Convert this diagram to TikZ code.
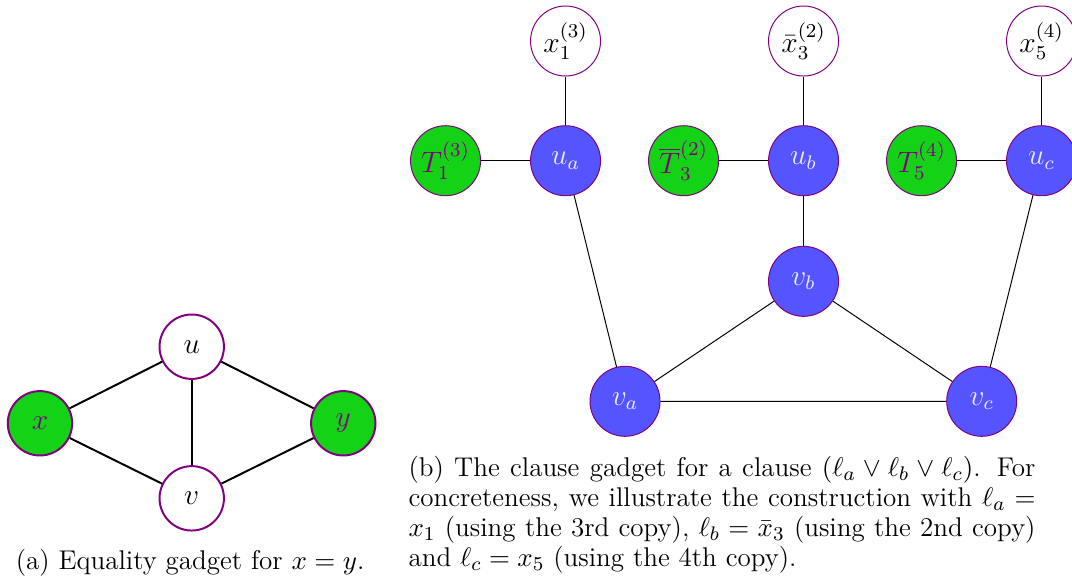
\documentclass[tikz,border=0pt]{standalone}
\usepackage{amsmath,amssymb}
\usetikzlibrary{positioning}
\definecolor{litcol}{RGB}{20,210,22}
\definecolor{gadcol}{RGB}{85,85,255}
\definecolor{rimcol}{RGB}{128,0,128}

\begin{document}
\begin{tikzpicture}[
  vertex/.style={circle, draw=rimcol, fill=white, minimum size=1cm,
                 inner sep=0pt, font=\large},
  lit/.style={vertex, fill=litcol, text=rimcol},
  gad/.style={vertex, fill=gadcol, text=white!88!gadcol},
  eq vertex/.style={vertex, thick, minimum size=0.92cm},
  subcap/.style={font=\fontsize{11}{12.2}\selectfont, inner sep=0pt}
]
  \useasboundingbox (0,0) rectangle (15.314,-8.271);

  % (a) Equality gadget
  \node[eq vertex] (u) at (2.739,-4.953) {$u$};
  \node[eq vertex] (v) at (2.739,-7.119) {$v$};
  \node[eq vertex, fill=litcol, text=rimcol] (x) at (0.571,-6.047) {$x$};
  \node[eq vertex, fill=litcol, text=rimcol] (y) at (4.904,-6.047) {$y$};
  \foreach \a/\b in {x/u, x/v, u/v, u/y, v/y}
    \draw[thick] (\a) -- (\b);
  \node[subcap, anchor=base west] (capA) at (0.22,-8.14)
    {(a) Equality gadget for $x = y$.};

  % (b) Clause gadget, one column per literal
  \foreach \s/\cx/\xlab/\tlab in {a/8.079/{x_1^{(3)}}/{T_1^{(3)}},
                                  b/11.479/{\bar{x}_3^{(2)}}/{\overline{T}_3^{(2)}},
                                  c/14.879/{x_5^{(4)}}/{T_5^{(4)}}} {
    \node[gad] (u\s) at (\cx,-2.296) {$u_\s$};
    \node[vertex] (x\s) at (\cx,-0.586) {$\xlab$};
    \node[lit, left=0.7cm of u\s] (T\s) {$\tlab$};
    \draw (x\s) -- (u\s);
    \draw (T\s) -- (u\s);
  }

  % clause triangle
  \node[gad] (va) at (8.929,-5.733) {$v_a$};
  \node[gad] (vb) at (11.479,-4.019) {$v_b$};
  \node[gad] (vc) at (14.024,-5.733) {$v_c$};
  \foreach \s in {a,b,c}
    \draw (u\s) -- (v\s);
  \draw (va) -- (vb) -- (vc) -- (va);

  \node[subcap, text width=8.957cm, align=justify, anchor=base west] (capB)
    at (5.829,-6.8)
    {(b) The clause gadget for a clause $(\ell_a \vee \ell_b \vee \ell_c)$.
     For concreteness, we illustrate the construction with $\ell_a =
     x_1$ (using the 3rd copy), $\ell_b = \bar{x}_3$ (using the 2nd copy)
     and $\ell_c = x_5$ (using the 4th copy).};
\end{tikzpicture}
\end{document}
